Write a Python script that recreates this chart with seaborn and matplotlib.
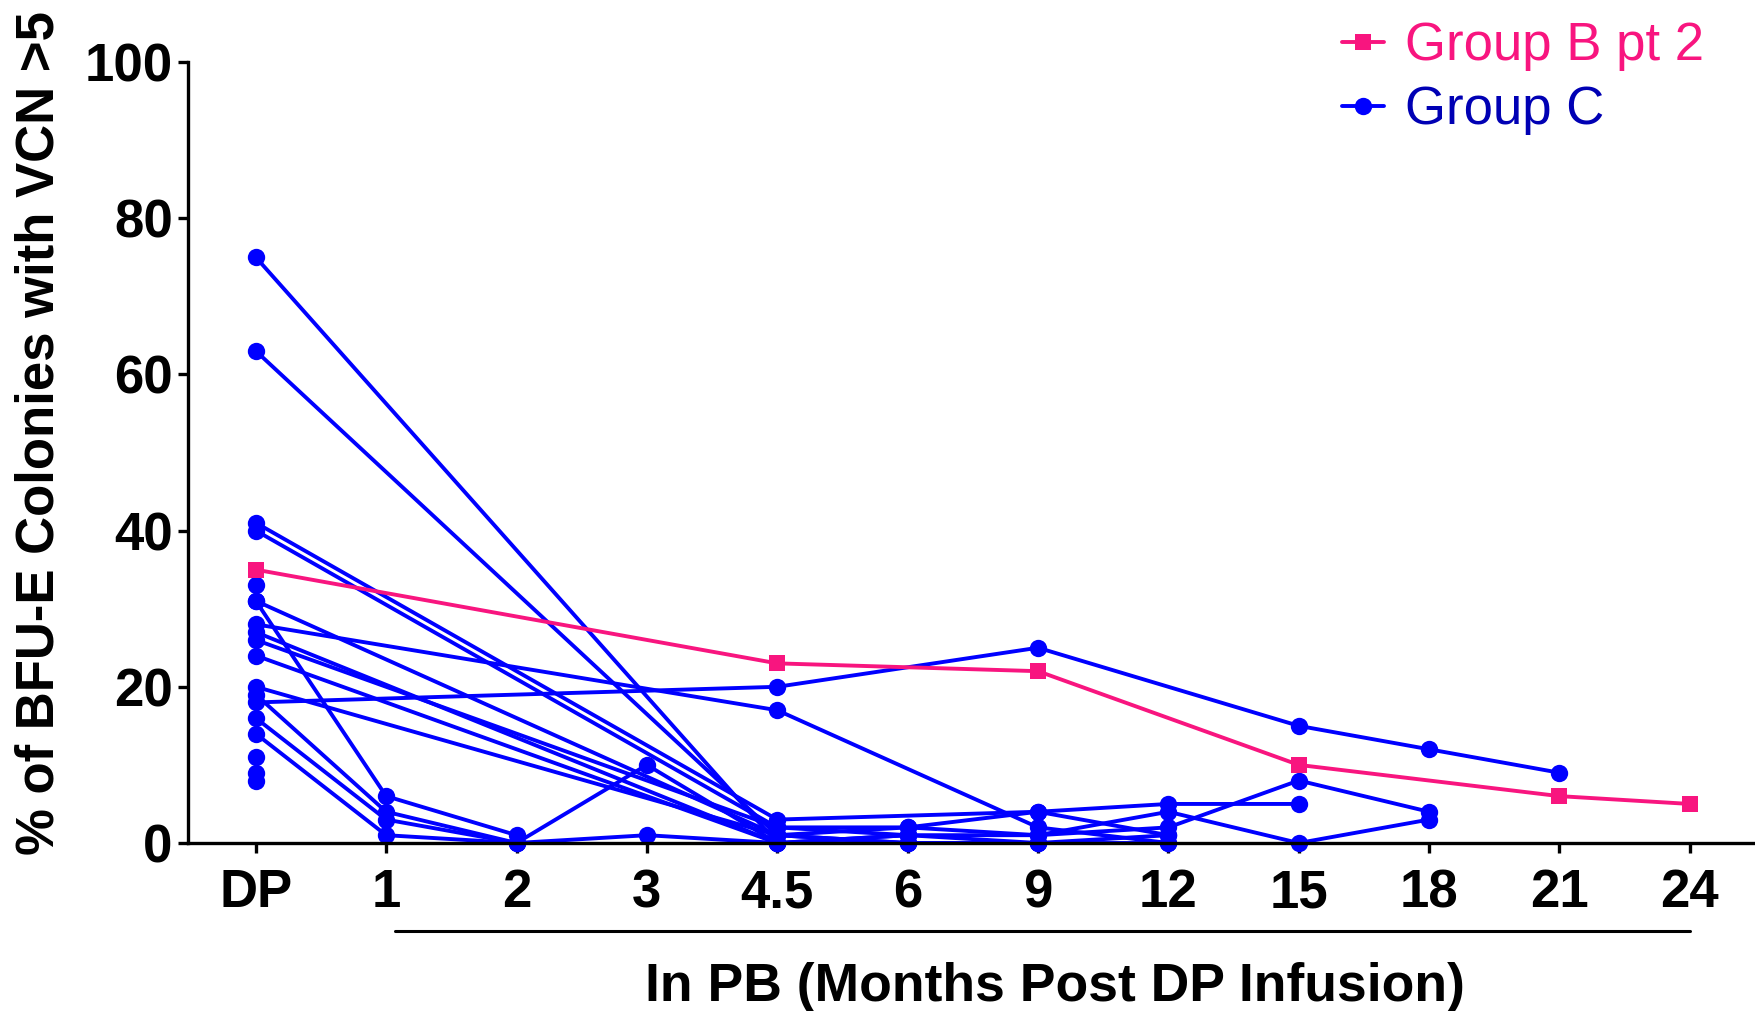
import numpy as np
import pandas as pd
import matplotlib
matplotlib.use('Agg')
import matplotlib.pyplot as plt
import seaborn as sns
from matplotlib.lines import Line2D

# --- data ---
x_labels = ['DP', '1', '2', '3', '4.5', '6', '9', '12', '15', '18', '21', '24']
nan = np.nan

# Group B pt 2 (one patient)
group_b = [35, nan, nan, nan, 23, nan, 22, nan, 10, nan, 6, 5]

# Group C patients, one list per patient, aligned with x_labels
c01 = [75, nan, nan, nan, 0, 1, 0, nan, nan, nan, nan, nan]
c02 = [63, nan, nan, nan, 1, 2, 1, 2, 8, 4, nan, nan]
c03 = [41, nan, nan, nan, 3, nan, 4, 5, 5, nan, nan, nan]
c04 = [40, nan, nan, nan, 2, 1, 1, 4, 0, 3, nan, nan]
c05 = [33, nan, nan, nan, nan, nan, nan, nan, nan, nan, nan, nan]
c06 = [31, 6, 1, nan, nan, nan, nan, nan, nan, nan, nan, nan]
c07 = [31, nan, nan, nan, 1, 0, 0, 1, nan, nan, nan, nan]
c08 = [28, nan, nan, nan, 17, nan, 2, 0, nan, nan, nan, nan]
c09 = [27, nan, nan, nan, 0, 1, nan, nan, nan, nan, nan, nan]
c10 = [26, nan, nan, nan, 2, 2, 4, 1, nan, nan, nan, nan]
c11 = [24, nan, nan, nan, 0, nan, nan, nan, nan, nan, nan, nan]
c12 = [20, nan, nan, nan, 1, 0, nan, nan, nan, nan, nan, nan]
c13 = [19, 4, 0, 10, 0, nan, nan, nan, nan, nan, nan, nan]
c14 = [18, nan, nan, nan, 20, nan, 25, nan, 15, 12, 9, nan]
c15 = [16, 3, 0, nan, nan, nan, nan, nan, nan, nan, nan, nan]
c16 = [14, 1, 0, 1, 0, 0, 0, 0, nan, nan, nan, nan]
c17 = [11, nan, nan, nan, nan, nan, nan, nan, nan, nan, nan, nan]
c18 = [9, nan, nan, nan, nan, nan, nan, nan, nan, nan, nan, nan]
c19 = [8, nan, nan, nan, nan, nan, nan, nan, nan, nan, nan, nan]
group_c = [c01, c02, c03, c04, c05, c06, c07, c08, c09, c10,
           c11, c12, c13, c14, c15, c16, c17, c18, c19]

pink = '#F8157F'
blue = '#0000FF'
dark_blue = '#0000B4'

# long table, missing visits dropped so lines connect across gaps
rows = []
for i, pt in enumerate(group_c):
    for j, v in enumerate(pt):
        rows.append({'pos': j, 'value': v, 'patient': f'C{i}'})
df_c = pd.DataFrame(rows).dropna()
df_b = pd.DataFrame({'pos': np.arange(len(x_labels)), 'value': group_b,
                     'patient': 'B2'}).dropna()

# --- plot ---
sns.set_style('ticks')
plt.rcParams['font.family'] = ['Liberation Sans', 'DejaVu Sans']
plt.rcParams['text.color'] = 'black'
plt.rcParams['axes.labelcolor'] = 'black'
plt.rcParams['xtick.color'] = 'black'
plt.rcParams['ytick.color'] = 'black'
plt.rcParams['axes.edgecolor'] = 'black'

fig = plt.figure(figsize=(17.55, 10.11), dpi=100)
ax = fig.add_axes([188 / 1755, 1 - 843 / 1011, 1 - 188 / 1755, (843 - 62) / 1011])

lw = 2.8
sns.lineplot(data=df_c, x='pos', y='value', units='patient', estimator=None,
             color=blue, marker='o', markersize=12.5, markeredgewidth=0,
             linewidth=lw, sort=True, ax=ax, legend=False, clip_on=False)
sns.lineplot(data=df_b, x='pos', y='value', units='patient', estimator=None,
             color=pink, marker='s', markersize=12, markeredgewidth=0,
             linewidth=lw, sort=True, ax=ax, legend=False, clip_on=False)

ax.set_xlim(-0.52, 11.5)
ax.set_ylim(0, 100)
ax.set_xticks(range(len(x_labels)))
ax.set_xticklabels(x_labels)
ax.set_yticks([0, 20, 40, 60, 80, 100])
sns.despine(ax=ax)
for s in ['left', 'bottom']:
    ax.spines[s].set_linewidth(2.4)
ax.tick_params(axis='both', direction='out', length=7, width=2.4,
               labelsize=38, color='black', labelcolor='black')
ax.tick_params(axis='x', pad=11)
ax.tick_params(axis='y', pad=4)
for lab in ax.get_xticklabels() + ax.get_yticklabels():
    lab.set_fontweight('bold')

ax.set_ylabel('% of BFU-E Colonies with VCN >5', fontsize=38, fontweight='bold',
              color='black', family=['Liberation Sans Narrow', 'Liberation Sans'])
ax.yaxis.set_label_coords(-0.0785, 0.525)
ax.set_xlabel('In PB (Months Post DP Infusion)', fontsize=38.5, fontweight='bold',
              color='black')
ax.xaxis.set_label_coords(0.553, -0.153)

# bracket line under the PB time points
ax.plot([1.07, 11.0], [-0.1127, -0.1127], color='black', linewidth=2.2,
        transform=ax.get_xaxis_transform(), clip_on=False)

handles = [Line2D([], [], color=pink, marker='s', markersize=12, markeredgewidth=0, linewidth=lw),
           Line2D([], [], color=blue, marker='o', markersize=12.5, markeredgewidth=0, linewidth=lw)]
ax.legend(handles, ['Group B pt 2', 'Group C'], loc='upper right',
          bbox_to_anchor=(1704 / 1755, 0.979), bbox_transform=fig.transFigure,
          frameon=False, fontsize=38, handlelength=0.8, handletextpad=0.4,
          labelspacing=0.27, borderpad=0, borderaxespad=0,
          labelcolor=[pink, dark_blue])

fig.savefig('out.png', dpi=100)
